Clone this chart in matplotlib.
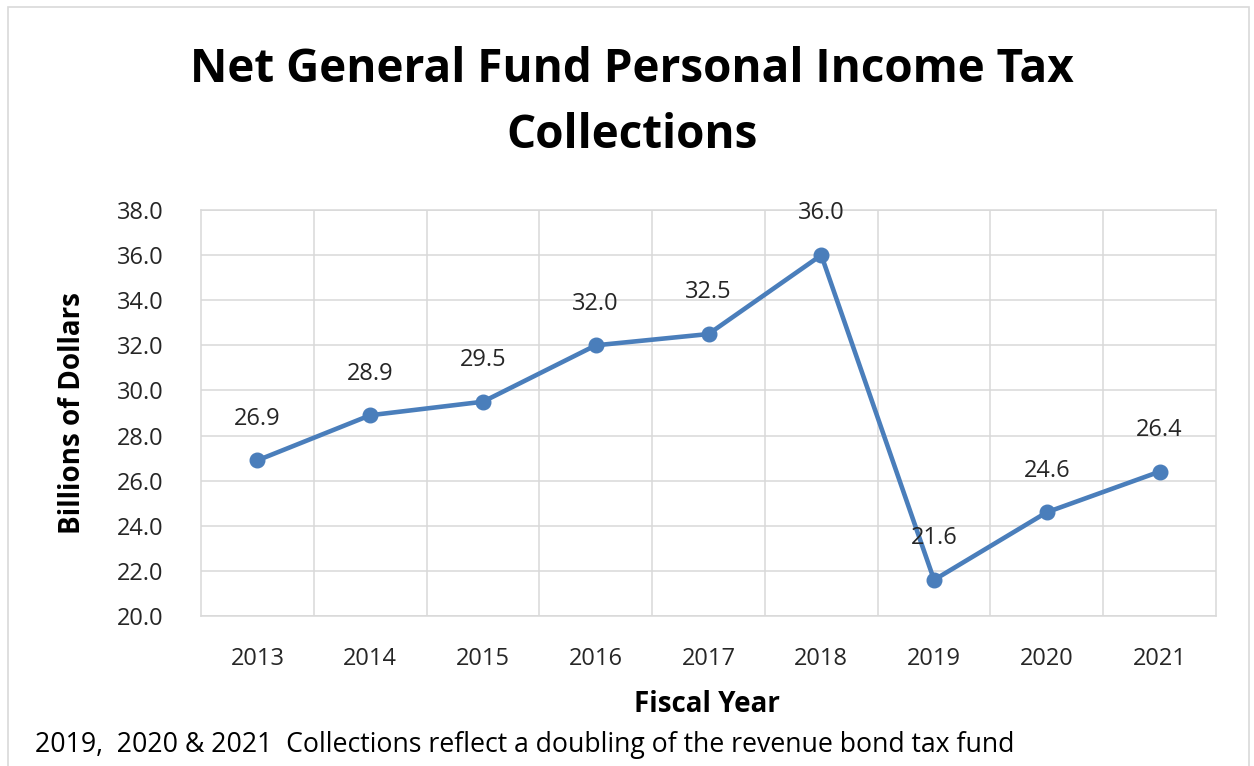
import matplotlib.pyplot as plt
from matplotlib.patches import Rectangle
from matplotlib.ticker import MultipleLocator, FixedLocator, NullFormatter

years = ["2013", "2014", "2015", "2016", "2017", "2018", "2019", "2020", "2021"]
collections = [26.9, 28.9, 29.5, 32.0, 32.5, 36.0, 21.6, 24.6, 26.4]

plt.rcParams['font.family'] = ['Open Sans', 'DejaVu Sans']

fig = plt.figure(figsize=(12.54, 7.66), dpi=100)
# chart area border
fig.patches.append(Rectangle((8 / 1254, -0.1), 1241 / 1254, 1.1 - 7 / 766,
                             transform=fig.transFigure, fill=False,
                             edgecolor='#d9d9d9', linewidth=1.2))

ax = fig.add_axes([201 / 1254, 1 - 616 / 766, 1015 / 1254, 406 / 766])
x = range(len(years))
ax.plot(x, collections, color='#4a7ebb', linewidth=3.3, marker='o', markersize=10.5,
        solid_capstyle='round')
for xi, v in zip(x, collections):
    ax.annotate(f"{v:.1f}", (xi, v), xytext=(0, 30), textcoords='offset points',
                ha='center', va='center', fontsize=17, color='#262626')

ax.set_xlim(-0.5, len(years) - 0.5)
ax.set_ylim(20, 38)
ax.yaxis.set_major_locator(MultipleLocator(2))
ax.yaxis.set_major_formatter(lambda v, p: f"{v:.1f}")
ax.set_xticks(list(x))
ax.set_xticklabels(years)
ax.xaxis.set_minor_locator(FixedLocator([i + 0.5 for i in range(len(years) - 1)]))
ax.xaxis.set_minor_formatter(NullFormatter())
ax.grid(True, which='major', axis='y', color='#d9d9d9', linewidth=1.1)
ax.grid(True, which='minor', axis='x', color='#d9d9d9', linewidth=1.1)
ax.tick_params(which='both', length=0)
ax.tick_params(axis='y', pad=27, labelsize=17, labelcolor='#262626')
ax.tick_params(axis='x', pad=22, labelsize=17, labelcolor='#262626')
for s in ax.spines.values():
    s.set_color('#d9d9d9')
    s.set_linewidth(1.1)

fig.text(632 / 1254, 1 - 70 / 766, "Net General Fund Personal Income Tax",
         ha='center', va='center', fontsize=33, fontweight='bold')
fig.text(632 / 1254, 1 - 135 / 766, "Collections",
         ha='center', va='center', fontsize=33, fontweight='bold')
fig.text(72 / 1254, 1 - 413 / 766, "Billions of Dollars", rotation=90,
         ha='center', va='center', fontsize=20, fontweight='bold')
fig.text(707 / 1254, 1 - 705 / 766, "Fiscal Year",
         ha='center', va='center', fontsize=20, fontweight='bold')
fig.text(35 / 1254, 1 - 745 / 766,
         "2019,  2020 & 2021  Collections reflect a doubling of the revenue bond tax fund",
         ha='left', va='center', fontsize=19.2)

fig.savefig("out.png", dpi=100, facecolor='white')
